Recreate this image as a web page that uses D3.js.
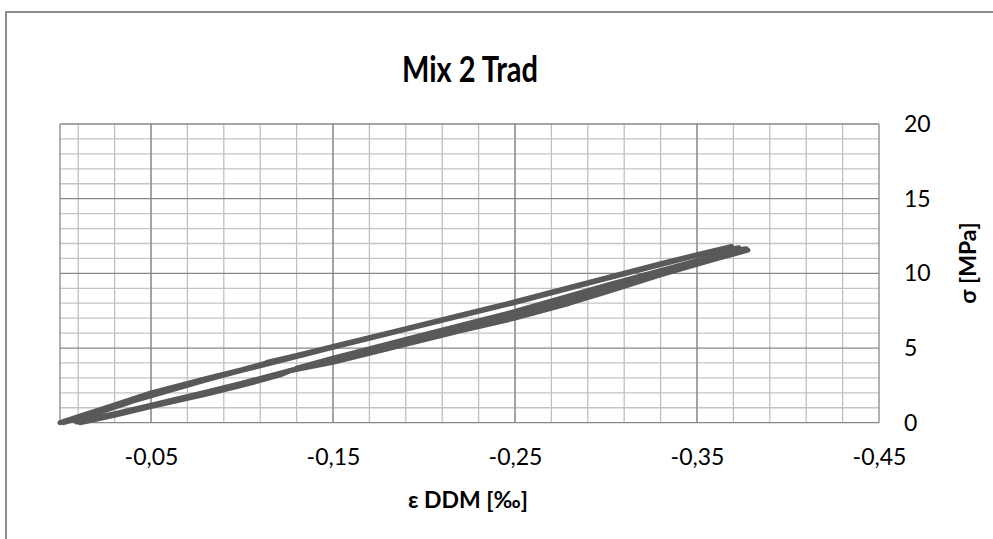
<!DOCTYPE html>
<html>
<head>
<meta charset="utf-8">
<script src="https://cdn.jsdelivr.net/npm/d3@7"></script>
<style>
  html, body { margin: 0; padding: 0; background: #fff; }
  svg { display: block; font-family: Lato, "Open Sans", sans-serif; }
</style>
</head>
<body>
<svg id="chart" width="993" height="539"></svg>
<script>
// ---- data (strain ε DDM [‰], stress σ [MPa]) ----
const chartTitle = "Mix 2 Trad";
const xTitle = "ε DDM [‰]";
const yTitle = "σ [MPa]";

const xTickValues = [-0.05, -0.15, -0.25, -0.35, -0.45];
const yTickValues = [0, 5, 10, 15, 20];

// unloading branches (upper)
const upper1 = [[0,0],[-0.01,0.4],[-0.03,1.2],[-0.05,2.0],[-0.08,2.95],[-0.1,3.55],[-0.112,3.95],[-0.114,4.05],[-0.13,4.5],[-0.15,5.1],[-0.18,6.0],[-0.2,6.6],[-0.22,7.2],[-0.25,8.1],[-0.28,9.05],[-0.3,9.7],[-0.33,10.65],[-0.35,11.25],[-0.369,11.8]];
const upper2 = [[-0.002,0],[-0.02,0.62],[-0.04,1.45],[-0.06,2.15],[-0.08,2.85],[-0.1,3.5],[-0.15,5.05],[-0.2,6.55],[-0.25,8.05],[-0.3,9.65],[-0.35,11.2],[-0.373,11.72]];
// loading branches (lower)
const lower1 = [[-0.011,0],[-0.03,0.5],[-0.05,1.08],[-0.08,1.9],[-0.1,2.5],[-0.121,3.2],[-0.127,3.5],[-0.15,4.05],[-0.18,4.95],[-0.2,5.55],[-0.22,6.15],[-0.25,7.0],[-0.28,8.0],[-0.3,8.75],[-0.33,9.9],[-0.36,10.95],[-0.378,11.55]];
const lower2 = [[-0.009,0.05],[-0.03,0.6],[-0.05,1.18],[-0.08,2.05],[-0.1,2.65],[-0.125,3.45],[-0.15,4.2],[-0.18,5.12],[-0.2,5.72],[-0.22,6.35],[-0.25,7.25],[-0.28,8.3],[-0.3,9.0],[-0.33,10.1],[-0.36,11.1],[-0.375,11.62]];
const lower3 = [[-0.13,3.65],[-0.15,4.32],[-0.2,5.9],[-0.25,7.45],[-0.3,9.2],[-0.35,10.85],[-0.377,11.65]];
const branches = [upper1, upper2, lower1, lower2, lower3];

// ---- layout ----
const svg = d3.select("#chart");
const L = 60, R = 879, T = 124, B = 422.7;
const x = d3.scaleLinear().domain([0, -0.45]).range([L, R]);
const y = d3.scaleLinear().domain([0, 20]).range([B, T]);

// outer chart frame
svg.append("rect").attr("x", 6).attr("y", 12).attr("width", 1100).attr("height", 600)
  .attr("fill", "#fff").attr("stroke", "#8c8c8c").attr("stroke-width", 2);

const grid = svg.append("g");
const xMinor = d3.range(-0.01, -0.44, -0.02);
const yMinor = d3.range(1, 20).filter(v => v % 5 !== 0);

grid.selectAll(".xmin").data(xMinor).join("line")
  .attr("x1", d => x(d)).attr("x2", d => x(d)).attr("y1", T).attr("y2", B)
  .attr("stroke", "#c0c0c0").attr("stroke-width", 1.3);
grid.selectAll(".ymin").data(yMinor).join("line")
  .attr("x1", L).attr("x2", R).attr("y1", d => y(d)).attr("y2", d => y(d))
  .attr("stroke", "#c4c4c4").attr("stroke-width", 1.3);
grid.selectAll(".xmaj").data([0, ...xTickValues]).join("line")
  .attr("x1", d => x(d)).attr("x2", d => x(d)).attr("y1", T).attr("y2", B)
  .attr("stroke", "#878787").attr("stroke-width", 1.3);
grid.selectAll(".ymaj").data(yTickValues).join("line")
  .attr("x1", L).attr("x2", R).attr("y1", d => y(d)).attr("y2", d => y(d))
  .attr("stroke", "#878787").attr("stroke-width", 1.3);

// axes (labels only)
const fmtX = d => d3.format(".2f")(d).replace(".", ",").replace("−", "-");
const xAxis = svg.append("g").attr("transform", `translate(0,${B})`)
  .call(d3.axisBottom(x).tickValues(xTickValues).tickSize(0).tickPadding(26).tickFormat(fmtX));
xAxis.select(".domain").remove();
xAxis.selectAll("text").attr("font-size", 23).attr("font-family", "Lato, sans-serif").attr("fill", "#000");

const yAxis = svg.append("g").attr("transform", `translate(${R},0)`)
  .call(d3.axisRight(y).tickValues(yTickValues).tickSize(0).tickPadding(25).tickFormat(d3.format("d")));
yAxis.select(".domain").remove();
yAxis.selectAll("text").attr("font-size", 23).attr("font-family", "Lato, sans-serif").attr("fill", "#000");

// data lines
const line = d3.line().x(d => x(d[0])).y(d => y(d[1]));
svg.append("g").selectAll("path").data(branches).join("path")
  .attr("d", line).attr("fill", "none").attr("stroke", "#595959")
  .attr("stroke-width", 5).attr("stroke-linejoin", "round").attr("stroke-linecap", "round");

// titles
svg.append("text").attr("x", 470).attr("y", 82).attr("text-anchor", "middle")
  .attr("font-size", 36).attr("font-weight", "bold").attr("fill", "#000")
  .attr("textLength", 136).attr("lengthAdjust", "spacingAndGlyphs").text(chartTitle);
svg.append("text").attr("x", 468).attr("y", 508).attr("text-anchor", "middle")
  .attr("font-size", 23).attr("font-weight", "bold").attr("fill", "#000").text(xTitle);
svg.append("text").attr("transform", "translate(976,263) rotate(-90)").attr("text-anchor", "middle")
  .attr("font-size", 23).attr("font-weight", "bold").attr("fill", "#000").text(yTitle);
</script>
</body>
</html>
